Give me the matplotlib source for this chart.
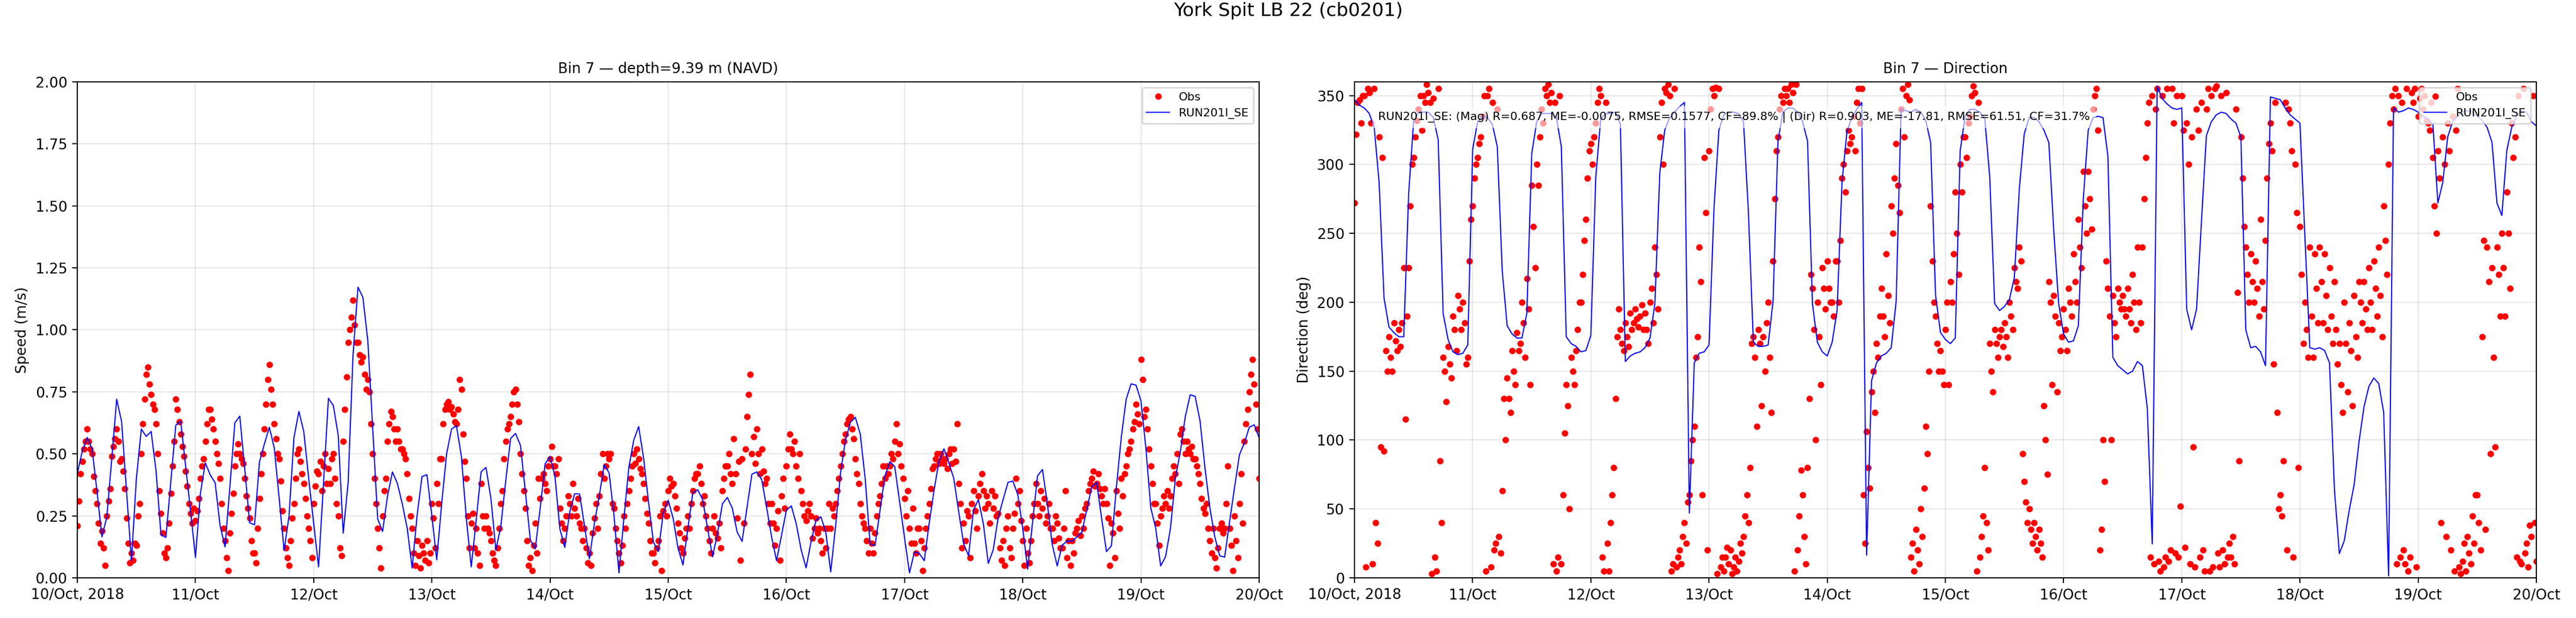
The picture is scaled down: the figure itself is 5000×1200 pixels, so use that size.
import matplotlib
matplotlib.use("Agg")
import matplotlib.pyplot as plt
import matplotlib.dates as mdates
from matplotlib.ticker import FuncFormatter
import pandas as pd
from datetime import datetime

station = "York Spit LB 22 (cb0201)"
run_name = "RUN201I_SE"
stats_text = ("RUN201I_SE: (Mag) R=0.687, ME=-0.0075, RMSE=0.1577, CF=89.8% | "
              "(Dir) R=0.903, ME=-17.81, RMSE=61.51, CF=31.7%")

# observed speed (m/s), every 20 min from 10/Oct 00:00
obs_speed = [
    # 10/Oct
    0.21, 0.31, 0.42, 0.47, 0.52, 0.55, 0.60, 0.55, 0.52, 0.50, 0.41, 0.35,
    0.30, 0.22, 0.14, 0.19, 0.12, 0.05, 0.25, 0.31, 0.36, 0.49, 0.53, 0.56,
    0.60, 0.55, 0.47, 0.48, 0.43, 0.36, 0.24, 0.14, 0.06, 0.10, 0.07, 0.14,
    0.13, 0.25, 0.30, 0.50, 0.62, 0.72, 0.82, 0.85, 0.78, 0.74, 0.70, 0.68,
    0.62, 0.50, 0.35, 0.26, 0.18, 0.10, 0.08, 0.12, 0.22, 0.34, 0.45, 0.55,
    0.72, 0.68, 0.63, 0.58, 0.53, 0.49, 0.43, 0.37, 0.30, 0.26, 0.22, 0.28,
    # 11/Oct
    0.23, 0.27, 0.32, 0.40, 0.45, 0.48, 0.55, 0.62, 0.68, 0.68, 0.64, 0.60,
    0.55, 0.50, 0.46, 0.40, 0.30, 0.20, 0.15, 0.08, 0.03, 0.18, 0.26, 0.34,
    0.45, 0.50, 0.54, 0.50, 0.48, 0.46, 0.40, 0.33, 0.28, 0.24, 0.15, 0.10,
    0.10, 0.06, 0.20, 0.32, 0.42, 0.50, 0.60, 0.70, 0.80, 0.86, 0.76, 0.70,
    0.62, 0.56, 0.50, 0.48, 0.39, 0.27, 0.20, 0.12, 0.08, 0.05, 0.15, 0.24,
    0.30, 0.40, 0.50, 0.52, 0.47, 0.42, 0.38, 0.32, 0.25, 0.20, 0.15, 0.08,
    # 12/Oct
    0.30, 0.37, 0.43, 0.42, 0.47, 0.35, 0.45, 0.50, 0.38, 0.44, 0.38, 0.48,
    0.50, 0.40, 0.30, 0.25, 0.12, 0.09, 0.55, 0.68, 0.81, 0.95, 1.00, 1.05,
    1.12, 1.02, 0.95, 0.95, 0.90, 0.87, 0.89, 0.82, 0.76, 0.80, 0.75, 0.62,
    0.50, 0.40, 0.30, 0.20, 0.12, 0.04, 0.25, 0.35, 0.40, 0.55, 0.62, 0.67,
    0.65, 0.60, 0.55, 0.60, 0.55, 0.52, 0.52, 0.50, 0.48, 0.42, 0.32, 0.25,
    0.20, 0.10, 0.05, 0.15, 0.09, 0.04, 0.13, 0.10, 0.07, 0.15, 0.06, 0.10,
    # 13/Oct
    0.30, 0.24, 0.12, 0.38, 0.30, 0.48, 0.48, 0.62, 0.68, 0.70, 0.71, 0.68,
    0.69, 0.66, 0.63, 0.62, 0.68, 0.80, 0.76, 0.58, 0.47, 0.40, 0.25, 0.12,
    0.22, 0.26, 0.12, 0.20, 0.10, 0.05, 0.38, 0.25, 0.20, 0.25, 0.20, 0.18,
    0.15, 0.10, 0.07, 0.05, 0.12, 0.20, 0.30, 0.35, 0.48, 0.55, 0.60, 0.62,
    0.65, 0.70, 0.75, 0.76, 0.70, 0.63, 0.50, 0.42, 0.35, 0.28, 0.15, 0.05,
    0.08, 0.03, 0.13, 0.22, 0.10, 0.40, 0.32, 0.40, 0.42, 0.38, 0.35, 0.45,
    # 14/Oct
    0.48, 0.53, 0.45, 0.45, 0.42, 0.48, 0.28, 0.22, 0.15, 0.20, 0.25, 0.33,
    0.30, 0.25, 0.38, 0.28, 0.25, 0.32, 0.22, 0.20, 0.15, 0.20, 0.12, 0.06,
    0.10, 0.05, 0.18, 0.24, 0.30, 0.20, 0.33, 0.42, 0.50, 0.40, 0.45, 0.50,
    0.48, 0.50, 0.30, 0.28, 0.20, 0.15, 0.10, 0.06, 0.13, 0.25, 0.20, 0.30,
    0.35, 0.40, 0.45, 0.50, 0.46, 0.52, 0.48, 0.44, 0.42, 0.38, 0.32, 0.26,
    0.22, 0.15, 0.10, 0.10, 0.06, 0.12, 0.15, 0.25, 0.03, 0.27, 0.30, 0.25,
    # 15/Oct
    0.35, 0.40, 0.37, 0.38, 0.33, 0.28, 0.22, 0.18, 0.12, 0.10, 0.16, 0.20,
    0.25, 0.20, 0.30, 0.35, 0.40, 0.42, 0.42, 0.45, 0.38, 0.30, 0.33, 0.25,
    0.20, 0.15, 0.10, 0.20, 0.25, 0.18, 0.16, 0.22, 0.12, 0.35, 0.40, 0.45,
    0.45, 0.50, 0.42, 0.38, 0.56, 0.42, 0.24, 0.47, 0.07, 0.48, 0.22, 0.52,
    0.65, 0.74, 0.82, 0.50, 0.57, 0.46, 0.60, 0.50, 0.42, 0.52, 0.43, 0.38,
    0.40, 0.30, 0.22, 0.30, 0.22, 0.13, 0.20, 0.27, 0.07, 0.33, 0.40, 0.28,
    # 16/Oct
    0.45, 0.52, 0.58, 0.52, 0.50, 0.55, 0.45, 0.40, 0.50, 0.35, 0.30, 0.25,
    0.23, 0.27, 0.30, 0.25, 0.16, 0.20, 0.24, 0.18, 0.20, 0.15, 0.10, 0.20,
    0.12, 0.20, 0.30, 0.20, 0.28, 0.25, 0.30, 0.35, 0.40, 0.45, 0.50, 0.55,
    0.58, 0.62, 0.64, 0.65, 0.60, 0.56, 0.48, 0.42, 0.38, 0.30, 0.25, 0.22,
    0.20, 0.15, 0.10, 0.20, 0.14, 0.10, 0.18, 0.25, 0.30, 0.33, 0.38, 0.45,
    0.40, 0.45, 0.42, 0.45, 0.50, 0.48, 0.55, 0.62, 0.50, 0.54, 0.45, 0.40,
    # 17/Oct
    0.32, 0.25, 0.35, 0.20, 0.14, 0.28, 0.14, 0.10, 0.20, 0.20, 0.15, 0.03,
    0.12, 0.20, 0.25, 0.30, 0.36, 0.44, 0.45, 0.48, 0.50, 0.46, 0.50, 0.48,
    0.46, 0.48, 0.44, 0.50, 0.52, 0.46, 0.52, 0.47, 0.62, 0.38, 0.30, 0.12,
    0.22, 0.15, 0.27, 0.25, 0.08, 0.30, 0.35, 0.27, 0.20, 0.33, 0.38, 0.42,
    0.35, 0.28, 0.33, 0.30, 0.22, 0.35, 0.28, 0.33, 0.25, 0.26, 0.12, 0.07,
    0.15, 0.05, 0.20, 0.25, 0.12, 0.08, 0.20, 0.26, 0.40, 0.30, 0.35, 0.23,
    # 18/Oct
    0.15, 0.05, 0.20, 0.10, 0.06, 0.15, 0.25, 0.30, 0.38, 0.30, 0.25, 0.35,
    0.28, 0.32, 0.22, 0.25, 0.30, 0.20, 0.20, 0.15, 0.25, 0.22, 0.16, 0.12,
    0.12, 0.20, 0.35, 0.08, 0.15, 0.05, 0.15, 0.10, 0.18, 0.20, 0.23, 0.17,
    0.25, 0.20, 0.28, 0.30, 0.35, 0.38, 0.40, 0.43, 0.37, 0.38, 0.42, 0.36,
    0.33, 0.30, 0.36, 0.30, 0.24, 0.05, 0.22, 0.18, 0.08, 0.35, 0.26, 0.20,
    0.40, 0.33, 0.42, 0.45, 0.50, 0.52, 0.55, 0.60, 0.63, 0.70, 0.66, 0.62,
    # 19/Oct
    0.88, 0.80, 0.65, 0.68, 0.60, 0.52, 0.45, 0.38, 0.30, 0.30, 0.22, 0.13,
    0.25, 0.28, 0.33, 0.30, 0.35, 0.28, 0.33, 0.40, 0.45, 0.42, 0.50, 0.38,
    0.58, 0.60, 0.55, 0.50, 0.55, 0.52, 0.50, 0.53, 0.48, 0.48, 0.45, 0.42,
    0.38, 0.32, 0.28, 0.26, 0.30, 0.20, 0.15, 0.10, 0.20, 0.08, 0.04, 0.12,
    0.20, 0.22, 0.18, 0.20, 0.30, 0.45, 0.20, 0.13, 0.03, 0.25, 0.15, 0.08,
    0.30, 0.42, 0.22, 0.55, 0.62, 0.68, 0.75, 0.82, 0.88, 0.78, 0.70, 0.60,
    0.40,
]

# observed direction (deg), every 20 min from 10/Oct 00:00
obs_dir = [
    # 10/Oct
    272, 322, 345, 347, 330, 350, 350, 8, 355, 352, 330, 10,
    355, 40, 25, 320, 95, 305, 92, 165, 150, 175, 160, 150,
    185, 172, 165, 180, 168, 185, 225, 115, 190, 225, 270, 300,
    305, 320, 332, 340, 350, 325, 350, 345, 358, 352, 345, 3,
    348, 15, 5, 355, 85, 40, 160, 150, 128, 168, 155, 145,
    190, 180, 165, 205, 195, 180, 200, 185, 155, 160, 230, 260,
    # 11/Oct
    270, 290, 300, 305, 315, 320, 335, 350, 5, 350, 355, 8,
    345, 20, 25, 340, 30, 18, 63, 130, 100, 145, 130, 120,
    165, 150, 140, 178, 165, 170, 200, 185, 160, 217, 195, 140,
    285, 255, 225, 300, 285, 320, 340, 330, 355, 350, 358, 345,
    352, 10, 345, 5, 15, 350, 10, 60, 105, 140, 125, 50,
    160, 150, 140, 165, 180, 200, 200, 220, 245, 260, 290, 310,
    # 12/Oct
    315, 300, 320, 330, 345, 355, 350, 15, 5, 345, 25, 5,
    40, 60, 80, 130, 175, 195, 180, 170, 165, 185, 175, 168,
    192, 180, 185, 195, 188, 182, 190, 198, 180, 192, 180, 170,
    200, 210, 185, 240, 220, 195, 320, 345, 300, 355, 352, 358,
    350, 5, 10, 355, 8, 15, 20, 10, 30, 40, 25, 55,
    60, 85, 100, 110, 160, 175, 240, 215, 60, 305, 265, 20,
    # 13/Oct
    310, 340, 355, 350, 356, 3, 355, 8, 15, 5, 15, 22,
    10, 20, 3, 8, 15, 5, 12, 25, 18, 30, 45, 60,
    40, 80, 170, 175, 160, 110, 180, 170, 125, 175, 150, 185,
    200, 160, 120, 230, 275, 310, 320, 340, 350, 345, 355, 350,
    355, 345, 358, 352, 5, 358, 20, 45, 78, 60, 30, 10,
    80, 130, 220, 210, 180, 100, 200, 175, 140, 225, 210, 195,
    # 14/Oct
    230, 210, 200, 200, 190, 230, 230, 200, 245, 290, 300, 280,
    310, 325, 315, 320, 335, 310, 345, 355, 330, 355, 60, 25,
    106, 80, 65, 135, 150, 120, 170, 160, 190, 210, 190, 175,
    235, 205, 185, 270, 250, 290, 315, 285, 265, 340, 355, 320,
    350, 358, 347, 15, 25, 5, 35, 20, 10, 50, 30, 65,
    110, 90, 150, 270, 230, 200, 190, 170, 150, 165, 150, 140,
    # 15/Oct
    180, 200, 140, 215, 200, 235, 280, 250, 220, 300, 280, 320,
    320, 305, 330, 335, 350, 357, 352, 5, 345, 15, 30, 45,
    80, 40, 20, 170, 150, 135, 180, 170, 160, 175, 180, 168,
    185, 175, 160, 200, 190, 180, 225, 215, 210, 240, 230, 90,
    70, 55, 40, 50, 35, 25, 40, 30, 20, 35, 25, 15,
    125, 100, 75, 215, 200, 140, 205, 190, 135, 185, 165, 175,
    # 16/Oct
    195, 180, 165, 210, 200, 190, 235, 215, 200, 260, 240, 225,
    295, 270, 250, 295, 275, 253, 340, 350, 355, 325, 20, 35,
    100, 70, 230, 210, 190, 100, 205, 185, 175, 210, 200, 195,
    205, 195, 190, 210, 195, 185, 220, 200, 180, 240, 200, 185,
    240, 275, 305, 330, 345, 15, 350, 10, 340, 355, 12, 5,
    350, 8, 15, 355, 12, 20, 355, 330, 18, 350, 15, 52,
    # 17/Oct
    350, 325, 22, 330, 300, 10, 320, 95, 8, 340, 325, 15,
    345, 20, 5, 340, 355, 5, 350, 8, 355, 357, 18, 8,
    350, 20, 10, 352, 15, 25, 15, 30, 10, 340, 207, 85,
    320, 290, 255, 240, 220, 200, 235, 215, 200, 230, 210, 190,
    260, 215, 195, 245, 290, 315, 330, 310, 155, 345, 120, 50,
    60, 45, 85, 345, 20, 340, 330, 310, 15, 300, 265, 80,
    # 18/Oct
    255, 220, 170, 200, 180, 160, 240, 190, 160, 235, 210, 185,
    240, 215, 185, 235, 205, 180, 225, 190, 170, 215, 180, 155,
    170, 140, 120, 200, 170, 135, 185, 165, 125, 205, 175, 160,
    215, 200, 185, 215, 195, 180, 225, 200, 180, 230, 210, 190,
    240, 205, 175, 270, 245, 220, 300, 330, 350, 340, 355, 10,
    350, 15, 345, 20, 10, 355, 5, 15, 352, 345, 355, 8,
    # 19/Oct
    335, 348, 355, 340, 350, 332, 330, 325, 345, 305, 270, 250,
    310, 290, 40, 320, 300, 30, 330, 310, 20, 335, 5, 325,
    355, 8, 3, 12, 25, 5, 30, 18, 10, 45, 25, 60,
    60, 40, 20, 175, 245, 35, 240, 215, 90, 225, 160, 95,
    240, 220, 190, 250, 225, 190, 280, 250, 210, 330, 305, 320,
    15, 350, 12, 10, 355, 18, 25, 8, 38, 30, 350, 40,
    12,
]

# model speed (m/s), hourly from 10/Oct 00:00
model_speed = [
    0.42, 0.51, 0.566, 0.52, 0.35, 0.165, 0.246, 0.48, 0.72, 0.63, 0.35, 0.07,
    0.40, 0.60, 0.57, 0.59, 0.43, 0.173, 0.163, 0.39, 0.615, 0.632, 0.45, 0.27,
    0.082, 0.34, 0.464, 0.415, 0.383, 0.21, 0.125, 0.37, 0.625, 0.652, 0.44, 0.222,
    0.214, 0.468, 0.54, 0.607, 0.524, 0.32, 0.11, 0.25, 0.565, 0.671, 0.589, 0.40,
    0.22, 0.044, 0.38, 0.724, 0.695, 0.573, 0.18, 0.383, 0.90, 1.172, 1.131, 0.956,
    0.60, 0.238, 0.187, 0.33, 0.427, 0.381, 0.298, 0.20, 0.039, 0.25, 0.408, 0.416,
    0.25, 0.073, 0.30, 0.50, 0.60, 0.613, 0.49, 0.24, 0.044, 0.23, 0.427, 0.445,
    0.32, 0.113, 0.206, 0.39, 0.562, 0.582, 0.534, 0.347, 0.153, 0.117, 0.28, 0.46,
    0.488, 0.41, 0.198, 0.123, 0.266, 0.339, 0.338, 0.21, 0.077, 0.218, 0.33, 0.456,
    0.423, 0.25, 0.02, 0.24, 0.444, 0.555, 0.61, 0.484, 0.306, 0.144, 0.106, 0.262,
    0.313, 0.24, 0.119, 0.052, 0.20, 0.343, 0.355, 0.315, 0.20, 0.085, 0.177, 0.298,
    0.324, 0.282, 0.185, 0.147, 0.282, 0.418, 0.427, 0.395, 0.282, 0.165, 0.069, 0.17,
    0.273, 0.29, 0.218, 0.113, 0.04, 0.145, 0.232, 0.246, 0.185, 0.024, 0.21, 0.423,
    0.556, 0.627, 0.647, 0.58, 0.40, 0.137, 0.13, 0.27, 0.41, 0.468, 0.449, 0.306,
    0.16, 0.02, 0.105, 0.098, 0.069, 0.22, 0.355, 0.472, 0.52, 0.464, 0.40, 0.266,
    0.137, 0.089, 0.274, 0.315, 0.218, 0.058, 0.113, 0.242, 0.315, 0.385, 0.39, 0.335,
    0.20, 0.035, 0.226, 0.411, 0.437, 0.298, 0.133, 0.048, 0.132, 0.148, 0.148, 0.165,
    0.184, 0.274, 0.367, 0.385, 0.242, 0.106, 0.129, 0.363, 0.565, 0.72, 0.782, 0.777,
    0.714, 0.524, 0.282, 0.20, 0.048, 0.085, 0.20, 0.403, 0.508, 0.649, 0.738, 0.732,
    0.633, 0.444, 0.282, 0.165, 0.089, 0.083, 0.226, 0.363, 0.496, 0.544, 0.607, 0.617,
    0.565,
]

# model direction (deg), hourly from 10/Oct 00:00
model_dir = [
    347, 343, 341, 337, 327, 287, 203, 182, 178, 175, 175, 279,
    331, 338, 338, 338, 334, 318, 192, 173, 164, 162, 163, 169,
    311, 331, 335, 334, 329, 313, 223, 183, 177, 174, 174, 192,
    308, 331, 337, 337, 337, 334, 313, 175, 170, 168, 164, 165,
    176, 291, 333, 337, 337, 338, 329, 157, 161, 163, 164, 167,
    174, 199, 294, 325, 334, 338, 342, 345, 47, 156, 163, 164,
    169, 268, 325, 336, 338, 338, 337, 331, 265, 171, 168, 168,
    169, 201, 317, 338, 341, 341, 338, 331, 317, 199, 171, 164,
    161, 171, 194, 287, 324, 334, 340, 345, 16.5, 143, 156, 161,
    163, 167, 201, 340, 339, 338, 340, 338, 332, 316, 205, 178,
    173, 170, 174, 310, 335, 340, 340, 338, 333, 291, 199, 194,
    197, 202, 218, 282, 322, 334, 334, 331, 325, 316, 252, 199,
    177, 171, 172, 183, 275, 325, 334, 335, 334, 306, 160, 154,
    151, 148, 150, 157, 154, 123, 24.6, 357, 348, 344, 341, 340,
    341, 195, 180, 195, 259, 321, 331, 336, 338, 337, 333, 330,
    320, 180, 167, 168, 164, 154, 349, 348, 347, 341, 336, 333,
    330, 248, 167, 166, 167, 165, 156, 64, 17.6, 27, 49, 67.5,
    99, 124, 139, 145, 141, 120, 1.4, 341, 338, 339, 341, 340,
    338, 335, 333, 329, 272, 287, 320, 331, 335, 338, 339, 338,
    335, 332, 327, 316, 272, 263, 310, 327, 335, 339, 338, 331,
    328,
]

t_obs = pd.date_range("2018-10-10", periods=len(obs_speed), freq="20min")
t_mod = pd.date_range("2018-10-10", periods=len(model_speed), freq="h")


def day_label(x, pos):
    d = mdates.num2date(x)
    if d.day == 10 and d.month == 10:
        return d.strftime("%d/%b, %Y")
    return d.strftime("%d/%b")


fig, (ax1, ax2) = plt.subplots(1, 2, figsize=(25, 6), dpi=200)
fig.subplots_adjust(left=0.03, right=0.9846, bottom=0.065, top=0.8676, wspace=0.0807)

ax1.plot(t_obs, obs_speed, "o", color="red", ms=3.5, label="Obs")
ax1.plot(t_mod, model_speed, "-", color="blue", lw=0.8, label=run_name)
ax1.set_ylim(0, 2)
ax1.set_ylabel("Speed (m/s)")
ax1.set_title("Bin 7 — depth=9.39 m (NAVD)", fontsize=10)

ax2.plot(t_obs, obs_dir, "o", color="red", ms=3.5, label="Obs")
ax2.plot(t_mod, model_dir, "-", color="blue", lw=0.8, label=run_name)
ax2.set_ylim(0, 360)
ax2.set_ylabel("Direction (deg)")
ax2.set_title("Bin 7 — Direction", fontsize=10)
ax2.text(0.02, 0.94, stats_text, transform=ax2.transAxes, fontsize=8, va="top",
         bbox=dict(facecolor="white", alpha=0.6, edgecolor="none"))

for ax in (ax1, ax2):
    ax.set_xlim(datetime(2018, 10, 10), datetime(2018, 10, 20))
    ax.xaxis.set_major_locator(mdates.DayLocator())
    ax.xaxis.set_major_formatter(FuncFormatter(day_label))
    ax.grid(True, alpha=0.3)
    ax.legend(loc="upper right", fontsize=8)

fig.suptitle(station, fontsize=13, y=0.997)
fig.savefig("out.png", dpi=200)
